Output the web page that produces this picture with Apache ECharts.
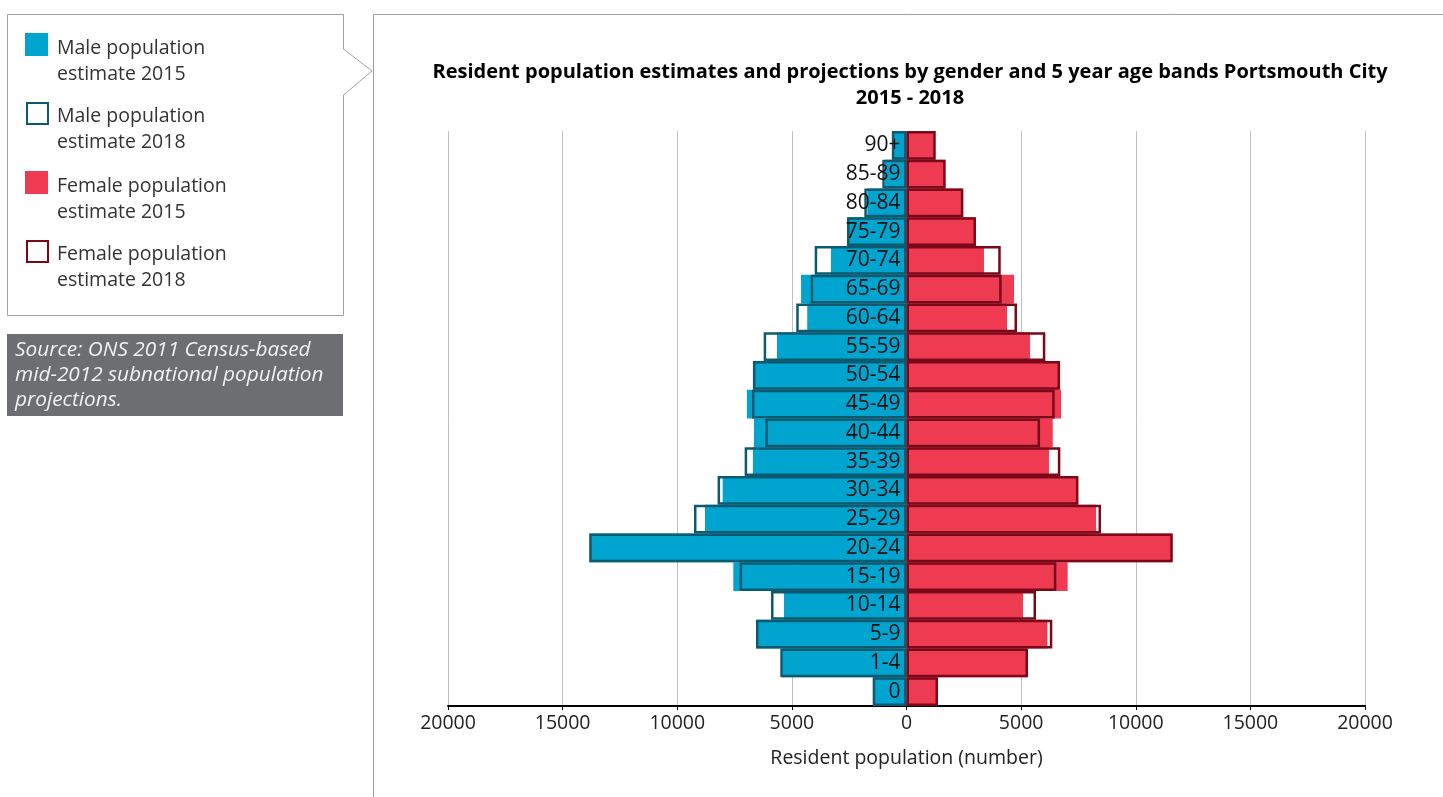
<!DOCTYPE html>
<html><head><meta charset="utf-8">
<script src="https://cdn.jsdelivr.net/npm/echarts@6/dist/echarts.min.js"></script>
<style>html,body{margin:0;padding:0;background:#fff}#c{width:1443px;height:797px}</style>
</head><body><div id="c"></div>
<script>
const ageBands = ['0','1-4','5-9','10-14','15-19','20-24','25-29','30-34','35-39','40-44','45-49','50-54','55-59','60-64','65-69','70-74','75-79','80-84','85-89','90+'];
const male2015 = [1450,5420,6535,5345,7555,13810,8790,8020,6700,6655,6960,6655,5650,4330,4600,3295,2540,1710,940,630];
const male2018 = [1475,5505,6565,5910,7280,13840,9270,8240,7060,6160,6740,6700,6230,4810,4180,4005,2595,1840,1055,640];
const female2015 = [1320,5270,6145,5080,7030,11570,8270,7455,6215,6380,6740,6640,5390,4385,4690,3380,3000,2420,1680,1245];
const female2018 = [1375,5300,6360,5650,6535,11615,8485,7500,6710,5825,6465,6700,6055,4820,4150,4110,3030,2480,1710,1275];
const xTicks = [-20000,-15000,-10000,-5000,0,5000,10000,15000,20000];
const legendNames = ['Male population\nestimate 2015','Male population\nestimate 2018','Female population\nestimate 2015','Female population\nestimate 2018'];
const sourceText = 'Source: ONS 2011 Census-based\nmid-2012 subnational population\nprojections.';

const FONT = '"Open Sans", "Noto Sans", sans-serif';
const C_M = '#00a5cf', C_F = '#ef3b52', B_M = '#0c5a70', B_F = '#7a0818';

const GRID_L = 448, GRID_R = 78, W = 1443;
const X_MIN = xTicks[0], X_MAX = xTicks[xTicks.length - 1];
const zeroOffset = (W - GRID_L - GRID_R) * (0 - X_MIN) / (X_MAX - X_MIN);

const chart = echarts.init(document.getElementById('c'));
const neg = a => a.map(v => -v);

const legendGraphics = [];
const legendStyles = [
  {fill: C_M, stroke: null},
  {fill: '#fff', stroke: B_M},
  {fill: C_F, stroke: null},
  {fill: '#fff', stroke: B_F}
];
const legendTops = [33, 101, 171, 239];
legendNames.forEach((n, i) => {
  const s = legendStyles[i];
  legendGraphics.push({
    type: 'rect', left: s.stroke ? 26 : 25, top: legendTops[i] + (s.stroke ? 1 : 0),
    shape: {width: s.stroke ? 21 : 23, height: s.stroke ? 21 : 23},
    style: {fill: s.fill, stroke: s.stroke || null, lineWidth: s.stroke ? 2 : 0}
  });
  legendGraphics.push({
    type: 'text', left: 57, top: legendTops[i] + 2,
    style: {text: n, fill: '#333', font: '19.5px ' + FONT, lineHeight: 26}
  });
});

chart.setOption({
  animation: false,
  title: {
    text: 'Resident population estimates and projections by gender and 5 year age bands Portsmouth City\n2015 - 2018',
    left: 905, top: 54, textAlign: 'center',
    textStyle: {fontFamily: FONT, fontSize: 20, fontWeight: 'bold', color: '#000', lineHeight: 26}
  },
  graphic: [
    {type: 'polyline', shape: {points: [[373.5, 797], [373.5, 14.5], [1443, 14.5]]}, style: {stroke: '#a0a0a0', lineWidth: 1, fill: null}},
    {type: 'polygon', shape: {points: [[7.5,14.5],[343.5,14.5],[343.5,49],[372,71],[343.5,95],[343.5,315.5],[7.5,315.5]]},
      style: {fill: '#fff', stroke: '#a0a0a0', lineWidth: 1}},
    {type: 'rect', left: 7, top: 334, shape: {width: 336, height: 82}, style: {fill: '#6d6e71'}},
    {type: 'text', left: 15, top: 338, style: {text: sourceText, fill: '#f2f2f2', font: 'italic 20.8px ' + FONT, lineHeight: 25}},
    ...legendGraphics
  ],
  grid: {left: GRID_L, right: GRID_R, top: 131, bottom: 91, containLabel: false},
  xAxis: {
    type: 'value', min: X_MIN, max: X_MAX, interval: 5000,
    name: 'Resident population (number)', nameLocation: 'middle', nameGap: 42,
    nameTextStyle: {fontFamily: FONT, fontSize: 19.5, color: '#222'},
    axisLine: {show: true, lineStyle: {color: '#000', width: 2}},
    axisTick: {show: true, length: 4, lineStyle: {color: '#000'}},
    axisLabel: {fontFamily: FONT, fontSize: 19.5, color: '#222', margin: 7, formatter: v => String(Math.abs(v))},
    splitLine: {show: true, lineStyle: {color: '#c0c0c0', width: 1}}
  },
  yAxis: {
    type: 'category', data: ageBands, z: 10, position: 'left', offset: -zeroOffset,
    axisLine: {show: false, onZero: false},
    axisTick: {show: false},
    axisLabel: {fontFamily: FONT, fontSize: 21, color: '#111', margin: 6, padding: [5, 0, 0, 0]}
  },
  series: [
    {name: legendNames[0], type: 'bar', data: neg(male2015), barWidth: '100%', barGap: '-100%',
      itemStyle: {color: C_M}, z: 2},
    {name: legendNames[2], type: 'bar', data: female2015, barWidth: '100%', barGap: '-100%',
      itemStyle: {color: C_F}, z: 2},
    {name: legendNames[1], type: 'bar', data: neg(male2018), barWidth: '100%', barGap: '-100%',
      itemStyle: {color: 'rgba(0,0,0,0)', borderColor: B_M, borderWidth: 2.5}, z: 3},
    {name: legendNames[3], type: 'bar', data: female2018, barWidth: '100%', barGap: '-100%',
      itemStyle: {color: 'rgba(0,0,0,0)', borderColor: B_F, borderWidth: 2.5}, z: 3}
  ]
});
</script></body></html>
